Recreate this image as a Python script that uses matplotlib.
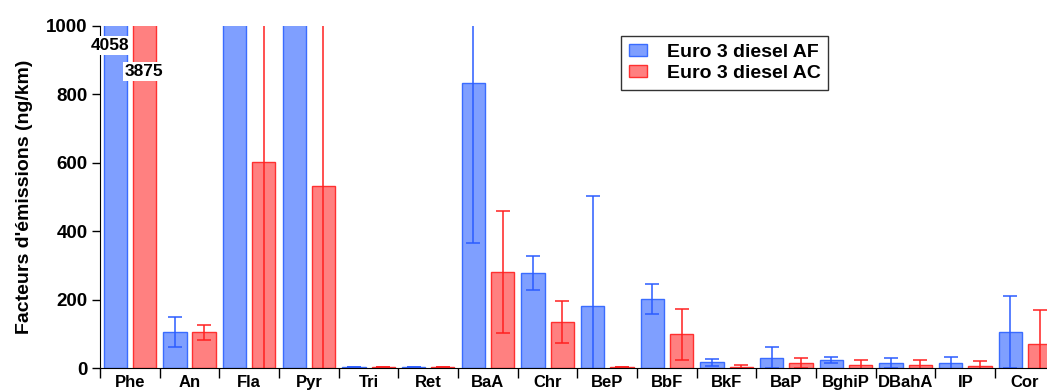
# Libraries
import numpy as np
import matplotlib.pyplot as plt
from matplotlib.patches import Patch

plt.rcParams['font.family'] = ['Liberation Sans', 'DejaVu Sans']
plt.rcParams['font.weight'] = 'bold'

# Data (ng/km)
compounds = ['Phe', 'An', 'Fla', 'Pyr', 'Tri', 'Ret', 'BaA', 'Chr', 'BeP', 'BbF',
             'BkF', 'BaP', 'BghiP', 'DBahA', 'IP', 'Cor']
af_values = [4058, 104, 2200, 2100, 3, 3, 832, 277, 182, 202, 17, 30, 23, 15, 14, 105]
af_errors = [0, 44, 400, 400, 0, 0, 467, 50, 320, 43, 10, 30, 9, 15, 18, 106]
ac_values = [3875, 104, 601, 531, 3, 3, 280, 134, 3, 98, 3, 14, 8, 8, 7, 69]
ac_errors = [0, 21, 620, 560, 0, 0, 179, 61, 0, 74, 5, 14, 15, 14, 14, 100]

x = np.arange(len(compounds))
w = 0.39
off = 0.245

fig = plt.figure(figsize=(10.47, 3.92), dpi=100)
ax = fig.add_axes([0.0955, 0.0612, 0.912, 0.873])

ax.bar(x - off, af_values, w, color='#7f9fff', edgecolor='#3a6cff', linewidth=1.0)
ax.bar(x + off, ac_values, w, color='#ff8080', edgecolor='#ff3030', linewidth=1.0)
ax.errorbar(x - off, af_values, yerr=af_errors, fmt='none', ecolor='#2b5cff',
            elinewidth=1.1, capsize=5, capthick=1.1)
ax.errorbar(x + off, ac_values, yerr=ac_errors, fmt='none', ecolor='#ff2020',
            elinewidth=1.1, capsize=5, capthick=1.1)

# labels for the two off-scale bars
ax.text(x[0] - off - 0.09, 942, f"{af_values[0]}", ha='center', va='center', fontsize=12.5,
        bbox=dict(facecolor='white', edgecolor='none', pad=1.5))
ax.text(x[0] + off, 866, f"{ac_values[0]}", ha='center', va='center', fontsize=12.5,
        bbox=dict(facecolor='white', edgecolor='none', pad=1.5))

ax.set_ylim(0, 1000)
ax.set_xlim(-0.5, len(compounds) - 0.5)
ax.set_yticks([0, 200, 400, 600, 800, 1000])
ax.tick_params(axis='y', labelsize=13.5, length=6, width=1, direction='out', pad=3)
ax.set_xticks(x)
ax.set_xticklabels(compounds, fontsize=12, fontweight='bold')
ax.tick_params(axis='x', which='major', length=0, pad=5)
ax.set_xticks(np.arange(-0.5, len(compounds), 1), minor=True)
ax.tick_params(axis='x', which='minor', length=7, width=1, direction='out')
for lab in ax.get_yticklabels():
    lab.set_fontweight('bold')

ax.set_ylabel("Facteurs d'émissions (ng/km)", fontsize=14, fontweight='bold', labelpad=9)
ax.spines['top'].set_visible(False)
ax.spines['right'].set_visible(False)

custom_legend = [
    Patch(facecolor='#7f9fff', edgecolor='#3a6cff', label='Euro 3 diesel AF'),
    Patch(facecolor='#ff8080', edgecolor='#ff3030', label='Euro 3 diesel AC'),
]
leg = ax.legend(handles=custom_legend, loc='upper left', bbox_to_anchor=(0.5455, 0.970),
                borderaxespad=0, fontsize=14, frameon=True, fancybox=False,
                edgecolor='black', handlelength=0.95, handleheight=0.55,
                handletextpad=1.0, borderpad=0.4, labelspacing=0.2)
leg.get_frame().set_linewidth(1.0)

plt.savefig('out.png', dpi=100)
